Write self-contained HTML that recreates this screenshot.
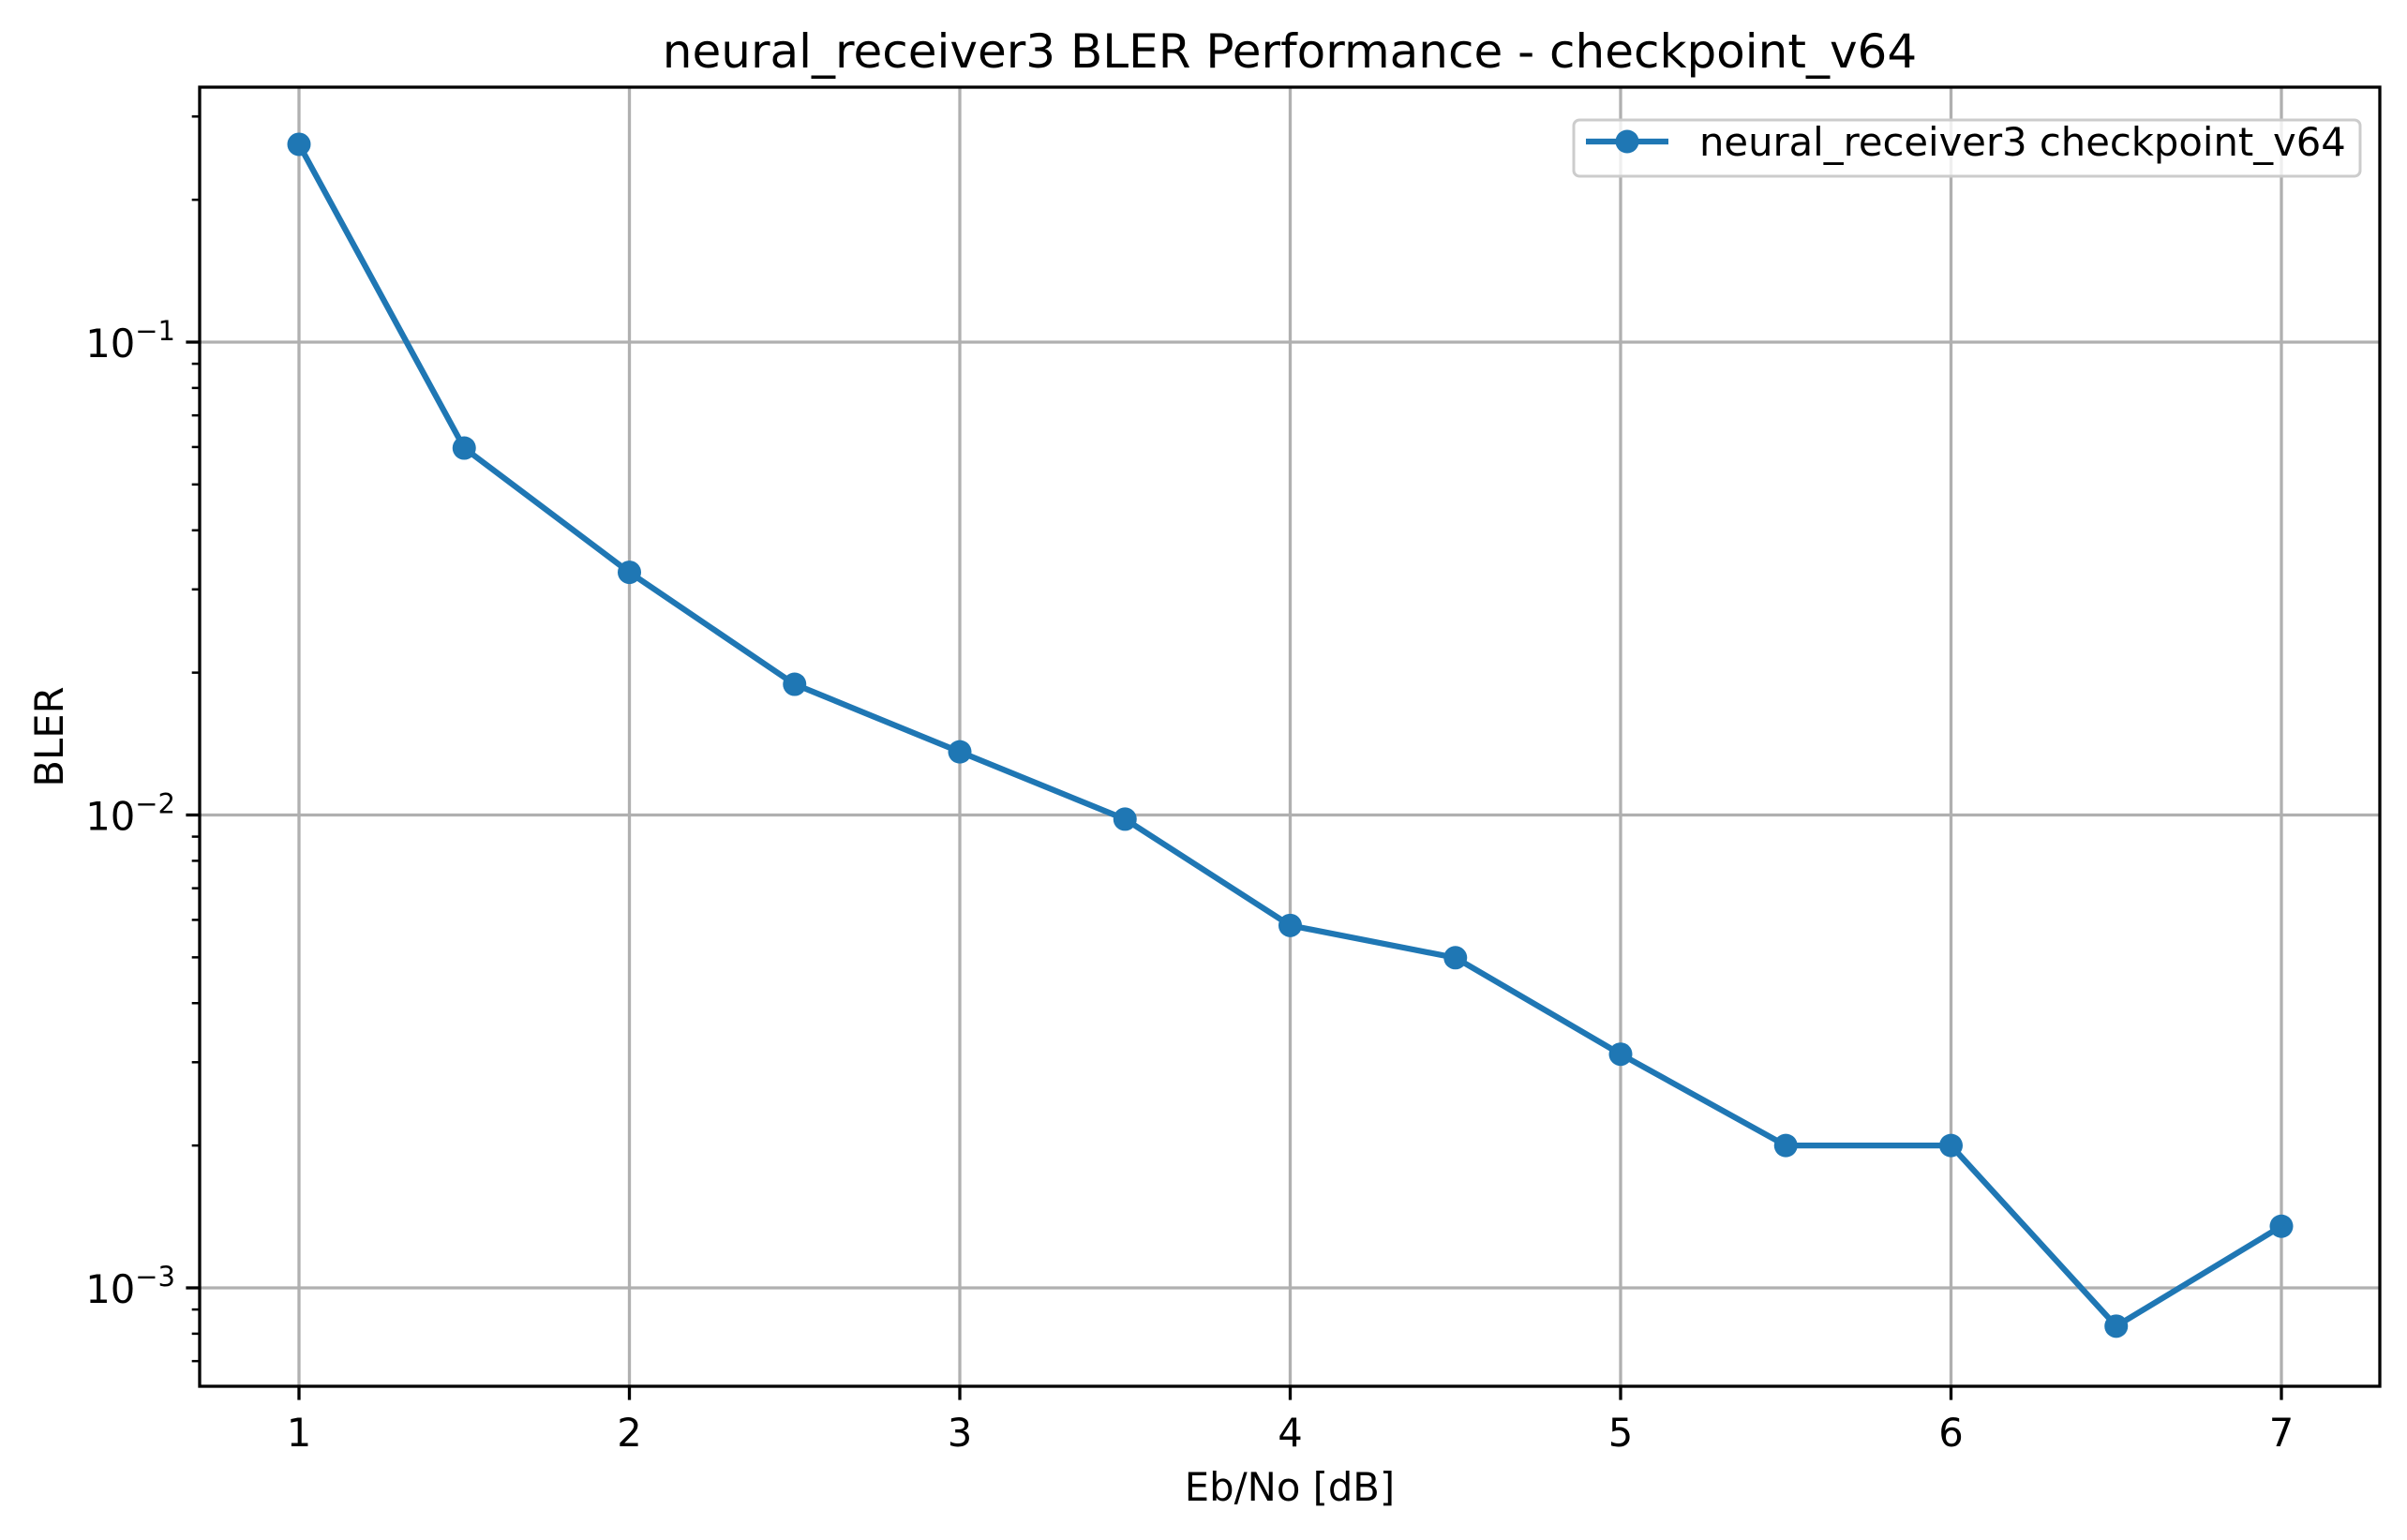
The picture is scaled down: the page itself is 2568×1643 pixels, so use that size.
<!DOCTYPE html>
<html><head><meta charset="utf-8"><style>
html,body{margin:0;padding:0;background:#fff;}
svg text{font-family:"DejaVu Sans","Liberation Sans",sans-serif;fill:#000;}
</style></head><body>
<svg id="chart" width="2568" height="1638" viewBox="0 0 2568 1638" xmlns="http://www.w3.org/2000/svg">
<rect width="2568" height="1638" fill="#fff"/>
<g id="grid"></g>
<g id="ticks"></g>
<g id="series"></g>
<rect x="213" y="93" width="2326" height="1386" fill="none" stroke="#000" stroke-width="3.3"/>
<text x="1376" y="72" font-size="50" text-anchor="middle">neural_receiver3 BLER Performance - checkpoint_v64</text>
<text x="1376" y="1601" font-size="41.7" text-anchor="middle">Eb/No [dB]</text>
<text x="0" y="0" font-size="41.7" text-anchor="middle" transform="translate(67,786) rotate(-90)">BLER</text>
<g>
<rect x="1679" y="128" width="839" height="60" rx="6" fill="#fff" fill-opacity="0.8" stroke="#ccc" stroke-width="3"/>
<line x1="1692" y1="151" x2="1780" y2="151" stroke="#1f77b4" stroke-width="6.25"/>
<circle cx="1736" cy="151" r="12.5" fill="#1f77b4"/>
<text x="1813" y="166" font-size="41.7">neural_receiver3 checkpoint_v64</text>
</g>
</svg>
<script>
const xValues = [1, 1.5, 2, 2.5, 3, 3.5, 4, 4.5, 5, 5.5, 6, 6.5, 7];
const blerValues = [0.262, 0.0597, 0.0326, 0.0189, 0.0136, 0.0098, 0.00584, 0.00499, 0.00312, 0.002, 0.002, 0.00083, 0.00135];
const xTicks = [1, 2, 3, 4, 5, 6, 7];
const yDecades = [-3, -2, -1];
const yTickExponents = ["\u22123", "\u22122", "\u22121"];

const L = 213, R = 2539, T = 93, B = 1479;
const X = v => 319 + (v - 1) * 352.5;
const Y = v => 365 + (-1 - Math.log10(v)) * 504.5;
const NS = "http://www.w3.org/2000/svg";
function mk(parent, tag, attrs) {
  const e = document.createElementNS(NS, tag);
  for (const k in attrs) e.setAttribute(k, attrs[k]);
  parent.appendChild(e);
  return e;
}
const grid = document.getElementById('grid');
const ticks = document.getElementById('ticks');
const series = document.getElementById('series');

xTicks.forEach(t => {
  const x = X(t);
  const g = mk(grid, 'line', {x1: x, y1: T, x2: x, y2: B, stroke: '#b0b0b0', 'stroke-width': 3.3});
  
  
  mk(ticks, 'line', {x1: x, y1: B, x2: x, y2: B + 14.6, stroke: '#000', 'stroke-width': 3.3});
  const tx = mk(ticks, 'text', {x: x, y: B + 64, 'font-size': 41.7, 'text-anchor': 'middle'});
  tx.textContent = String(t);
  
  
});

yDecades.forEach((d, i) => {
  const y = Y(Math.pow(10, d));
  const g = mk(grid, 'line', {x1: L, y1: y, x2: R, y2: y, stroke: '#b0b0b0', 'stroke-width': 3.3});
  
  
  mk(ticks, 'line', {x1: L - 14.6, y1: y, x2: L, y2: y, stroke: '#000', 'stroke-width': 3.3});
  const tx = mk(ticks, 'text', {x: L - 26, y: y + 16, 'font-size': 41.7, 'text-anchor': 'end'});
  
  
  const base = mk(tx, 'tspan', {});
  base.textContent = '10';
  const sup = mk(tx, 'tspan', {dy: -18, 'font-size': 29});
  sup.textContent = yTickExponents[i];
});
[-4, -3, -2, -1].forEach(d => {
  for (let m = 2; m <= 9; m++) {
    const y = Y(m * Math.pow(10, d));
    if (y < T || y > B) continue;
    mk(ticks, 'line', {x1: L - 8.3, y1: y, x2: L, y2: y, stroke: '#000', 'stroke-width': 2.5});
  }
});

const pts = xValues.map((x, i) => X(x) + ',' + Y(blerValues[i])).join(' ');
const line = mk(series, 'polyline', {points: pts, fill: 'none', stroke: '#1f77b4', 'stroke-width': 6.25, 'stroke-linejoin': 'round'});


xValues.forEach((x, i) => {
  const c = mk(series, 'circle', {cx: X(x), cy: Y(blerValues[i]), r: 12.5, fill: '#1f77b4'});
  
  
});
</script>
</body></html>
